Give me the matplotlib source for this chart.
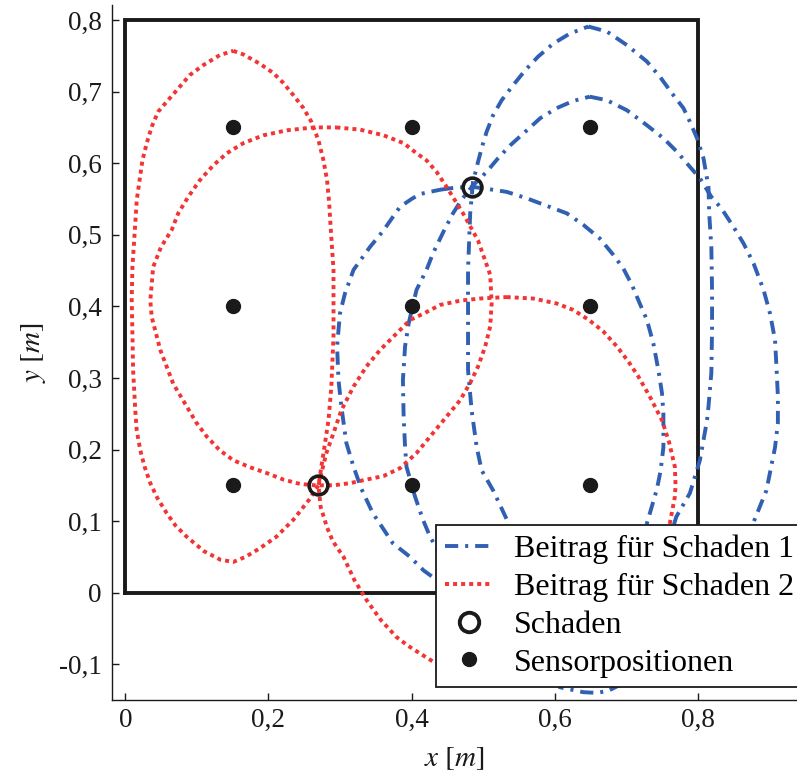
import matplotlib
matplotlib.use("Agg")
import matplotlib.pyplot as plt
from matplotlib.ticker import FixedLocator, FuncFormatter
from matplotlib.lines import Line2D

plt.rcParams['font.family'] = ['Liberation Serif', 'DejaVu Serif']
plt.rcParams['mathtext.fontset'] = 'stix'
plt.rcParams['lines.scale_dashes'] = False

# ---------------- data ----------------
sensor_x = [0.15, 0.40, 0.65, 0.15, 0.40, 0.65, 0.15, 0.40, 0.65]
sensor_y = [0.65, 0.65, 0.65, 0.40, 0.40, 0.40, 0.15, 0.15, 0.15]

damage_x = [0.485, 0.270]
damage_y = [0.567, 0.150]

plate_x = [0.0, 0.8, 0.8, 0.0, 0.0]
plate_y = [0.0, 0.0, 0.8, 0.8, 0.0]

# contributions for damage 1 (blue)
d_x = [0.647, 0.673, 0.701, 0.729, 0.747, 0.766, 0.780, 0.789, 0.799, 0.808, 0.815, 0.816, 0.819, 0.820,
       0.820, 0.819, 0.815, 0.813, 0.803, 0.789, 0.770, 0.750, 0.728, 0.705, 0.691, 0.675, 0.659, 0.640,
       0.626, 0.607, 0.595, 0.575, 0.555, 0.538, 0.514, 0.498, 0.491, 0.484, 0.479, 0.479, 0.479, 0.482,
       0.486, 0.493, 0.498, 0.505, 0.514, 0.526, 0.542, 0.559, 0.577, 0.598, 0.621, 0.647]
d_y = [0.791, 0.784, 0.765, 0.742, 0.721, 0.695, 0.677, 0.658, 0.635, 0.607, 0.567, 0.530, 0.483, 0.423,
       0.367, 0.307, 0.260, 0.241, 0.185, 0.139, 0.106, 0.040, -0.040, -0.100, -0.129, -0.137, -0.140, -0.139,
       -0.136, -0.132, -0.100, -0.030, 0.040, 0.092, 0.143, 0.171, 0.204, 0.255, 0.311, 0.381, 0.451, 0.530,
       0.574, 0.602, 0.621, 0.644, 0.667, 0.688, 0.709, 0.730, 0.749, 0.767, 0.781, 0.791]

e_x = [0.649, 0.673, 0.701, 0.729, 0.752, 0.771, 0.789, 0.803, 0.819, 0.833, 0.850, 0.864, 0.878, 0.892,
       0.901, 0.908, 0.910, 0.912, 0.912, 0.908, 0.896, 0.879, 0.855, 0.820, 0.760, 0.680, 0.600, 0.530,
       0.475, 0.445, 0.426, 0.416, 0.405, 0.393, 0.391, 0.389, 0.388, 0.391, 0.396, 0.407, 0.421, 0.430,
       0.445, 0.458, 0.470, 0.486, 0.505, 0.521, 0.538, 0.559, 0.580, 0.603, 0.626, 0.649]
e_y = [0.693, 0.688, 0.674, 0.653, 0.635, 0.616, 0.595, 0.579, 0.553, 0.537, 0.511, 0.488, 0.460, 0.423,
       0.390, 0.353, 0.316, 0.274, 0.237, 0.203, 0.143, 0.101, 0.040, -0.010, -0.050, -0.070, -0.065, -0.040,
       0.005, 0.045, 0.078, 0.102, 0.134, 0.176, 0.204, 0.246, 0.297, 0.344, 0.376, 0.423, 0.451, 0.474,
       0.505, 0.530, 0.549, 0.569, 0.588, 0.607, 0.625, 0.644, 0.663, 0.677, 0.687, 0.693]

f_x = [0.440, 0.462, 0.485, 0.500, 0.533, 0.561, 0.593, 0.617, 0.640, 0.663, 0.682, 0.696, 0.708, 0.719,
       0.729, 0.738, 0.745, 0.750, 0.752, 0.752, 0.748, 0.743, 0.729, 0.705, 0.670, 0.620, 0.560, 0.500,
       0.455, 0.435, 0.417, 0.398, 0.374, 0.346, 0.330, 0.319, 0.309, 0.302, 0.298, 0.296, 0.300, 0.307,
       0.319, 0.342, 0.360, 0.374, 0.384, 0.400, 0.412, 0.440]
f_y = [0.563, 0.566, 0.567, 0.565, 0.560, 0.551, 0.539, 0.530, 0.514, 0.495, 0.472, 0.453, 0.430, 0.404,
       0.381, 0.348, 0.311, 0.279, 0.251, 0.203, 0.170, 0.145, 0.097, 0.040, -0.005, -0.035, -0.045, -0.030,
       -0.005, 0.018, 0.031, 0.050, 0.069, 0.111, 0.145, 0.176, 0.209, 0.260, 0.297, 0.344, 0.390, 0.418,
       0.451, 0.483, 0.505, 0.525, 0.539, 0.550, 0.557, 0.563]

# contributions for damage 2 (red)
a_x = [0.151, 0.165, 0.188, 0.207, 0.221, 0.235, 0.249, 0.260, 0.270, 0.277, 0.282, 0.285, 0.287, 0.291,
       0.291, 0.288, 0.284, 0.277, 0.270, 0.257, 0.235, 0.211, 0.188, 0.168, 0.151, 0.133, 0.110, 0.086,
       0.070, 0.058, 0.045, 0.035, 0.027, 0.021, 0.016, 0.014, 0.011, 0.010, 0.009, 0.010, 0.014, 0.016,
       0.020, 0.024, 0.030, 0.037, 0.046, 0.058, 0.072, 0.090, 0.109, 0.132, 0.151]
a_y = [0.757, 0.752, 0.739, 0.726, 0.712, 0.695, 0.677, 0.658, 0.632, 0.604, 0.576, 0.544, 0.511, 0.451,
       0.358, 0.288, 0.241, 0.195, 0.150, 0.130, 0.102, 0.078, 0.062, 0.050, 0.043, 0.046, 0.058, 0.078,
       0.094, 0.111, 0.132, 0.153, 0.176, 0.199, 0.227, 0.255, 0.310, 0.362, 0.410, 0.455, 0.516, 0.548,
       0.576, 0.604, 0.628, 0.651, 0.672, 0.686, 0.702, 0.723, 0.737, 0.751, 0.757]

b_x = [0.295, 0.328, 0.361, 0.389, 0.407, 0.421, 0.435, 0.449, 0.472, 0.493, 0.510, 0.512, 0.510, 0.503,
       0.493, 0.482, 0.468, 0.449, 0.430, 0.407, 0.384, 0.361, 0.337, 0.314, 0.291, 0.265, 0.244, 0.221,
       0.198, 0.175, 0.151, 0.132, 0.114, 0.099, 0.086, 0.067, 0.049, 0.037, 0.035, 0.039, 0.050, 0.065,
       0.074, 0.088, 0.104, 0.123, 0.142, 0.165, 0.193, 0.226, 0.263, 0.295]
b_y = [0.650, 0.647, 0.639, 0.628, 0.614, 0.604, 0.588, 0.567, 0.530, 0.492, 0.444, 0.404, 0.372, 0.344,
       0.316, 0.293, 0.269, 0.246, 0.223, 0.195, 0.174, 0.163, 0.158, 0.153, 0.150, 0.150, 0.152, 0.158,
       0.167, 0.175, 0.185, 0.199, 0.218, 0.238, 0.260, 0.292, 0.339, 0.385, 0.408, 0.455, 0.483, 0.507,
       0.530, 0.553, 0.576, 0.597, 0.614, 0.628, 0.639, 0.646, 0.650, 0.650]

c_x = [0.533, 0.570, 0.603, 0.626, 0.648, 0.668, 0.687, 0.703, 0.717, 0.733, 0.750, 0.760, 0.768, 0.769,
       0.768, 0.761, 0.750, 0.725, 0.690, 0.640, 0.580, 0.520, 0.470, 0.433, 0.412, 0.395, 0.379, 0.357,
       0.337, 0.320, 0.305, 0.290, 0.282, 0.273, 0.270, 0.281, 0.291, 0.302, 0.319, 0.337, 0.356, 0.379,
       0.398, 0.417, 0.440, 0.468, 0.496, 0.533]
c_y = [0.413, 0.411, 0.404, 0.395, 0.381, 0.365, 0.344, 0.323, 0.302, 0.274, 0.241, 0.210, 0.176, 0.150,
       0.134, 0.097, 0.040, -0.020, -0.070, -0.100, -0.112, -0.114, -0.108, -0.098, -0.085, -0.074, -0.062, -0.038,
       -0.010, 0.018, 0.050, 0.072, 0.091, 0.120, 0.150, 0.195, 0.223, 0.255, 0.288, 0.316, 0.339, 0.362,
       0.381, 0.390, 0.402, 0.408, 0.411, 0.413]

blue_curves = [(d_x, d_y), (e_x, e_y), (f_x, f_y)]
red_curves = [(a_x, a_y), (b_x, b_y), (c_x, c_y)]

x_ticks = [0.0, 0.2, 0.4, 0.6, 0.8]
y_ticks = [-0.1, 0.0, 0.1, 0.2, 0.3, 0.4, 0.5, 0.6, 0.7, 0.8]

legend_labels = ["Beitrag für Schaden 1", "Beitrag für Schaden 2", "Schaden", "Sensorpositionen"]

# ---------------- style ----------------
BLUE = '#3160B2'
RED = '#F23434'
BLACK = '#1a1a1a'
blue_dash = (0, (9.5, 5.0, 2.2, 5.0))
red_dot = (0, (2.9, 2.9))
LW = 2.8

fig = plt.figure(figsize=(7.97, 7.75), dpi=100)
ax = fig.add_axes([0.1401, 0.0968, 0.8599, 0.8967])
ax.set_xlim(-0.019, 0.9387)
ax.set_ylim(-0.1499, 0.821)

ax.plot(plate_x, plate_y, color=BLACK, lw=2.8, solid_joinstyle='miter', zorder=1)

for cx, cy in blue_curves:
    ax.plot(cx, cy, color=BLUE, lw=LW, linestyle=blue_dash, dash_capstyle='butt', zorder=2)
for cx, cy in red_curves:
    ax.plot(cx, cy, color=RED, lw=LW, linestyle=red_dot, dash_capstyle='butt', zorder=2)

ax.plot(sensor_x, sensor_y, linestyle='none', marker='o', ms=10, color=BLACK, zorder=4)
ax.plot(damage_x, damage_y, linestyle='none', marker='o', ms=13.5, mfc='none', mec=BLACK, mew=2.6, zorder=5)

for s in ['top', 'right']:
    ax.spines[s].set_visible(False)
for s in ['left', 'bottom']:
    ax.spines[s].set_linewidth(1.0)
    ax.spines[s].set_color(BLACK)

def fmt(v, pos):
    if abs(v) < 1e-9:
        return '0'
    return f"{v:.1f}".replace('.', ',')

ax.xaxis.set_major_locator(FixedLocator(x_ticks))
ax.yaxis.set_major_locator(FixedLocator(y_ticks))
ax.xaxis.set_major_formatter(FuncFormatter(fmt))
ax.yaxis.set_major_formatter(FuncFormatter(fmt))
ax.tick_params(direction='in', length=5, width=1.0, labelsize=19.5, colors=BLACK, pad=7)
ax.tick_params(axis='x', pad=6)

ax.set_xlabel(r'$x\ [m]$', fontsize=21, labelpad=9, color=BLACK)
ax.set_ylabel(r'$y\ [m]$', fontsize=21, labelpad=8, color=BLACK)

handles = [
    Line2D([], [], color=BLUE, lw=LW, linestyle=blue_dash, dash_capstyle='butt'),
    Line2D([], [], color=RED, lw=LW, linestyle=red_dot, dash_capstyle='butt'),
    Line2D([], [], linestyle='none', marker='o', ms=14, mfc='none', mec=BLACK, mew=2.8),
    Line2D([], [], linestyle='none', marker='o', ms=10, color=BLACK),
]
leg = ax.legend(handles, legend_labels, loc='upper left', bbox_to_anchor=(0.434, 0.094),
                bbox_transform=ax.transData, borderaxespad=0, fontsize=23, frameon=True,
                fancybox=False, framealpha=1, edgecolor=BLACK, handlelength=1.5,
                handletextpad=0.65, labelspacing=0.26, borderpad=0.3)
leg.get_frame().set_linewidth(1.3)
leg.set_zorder(10)

fig.savefig('out.png', dpi=100)
